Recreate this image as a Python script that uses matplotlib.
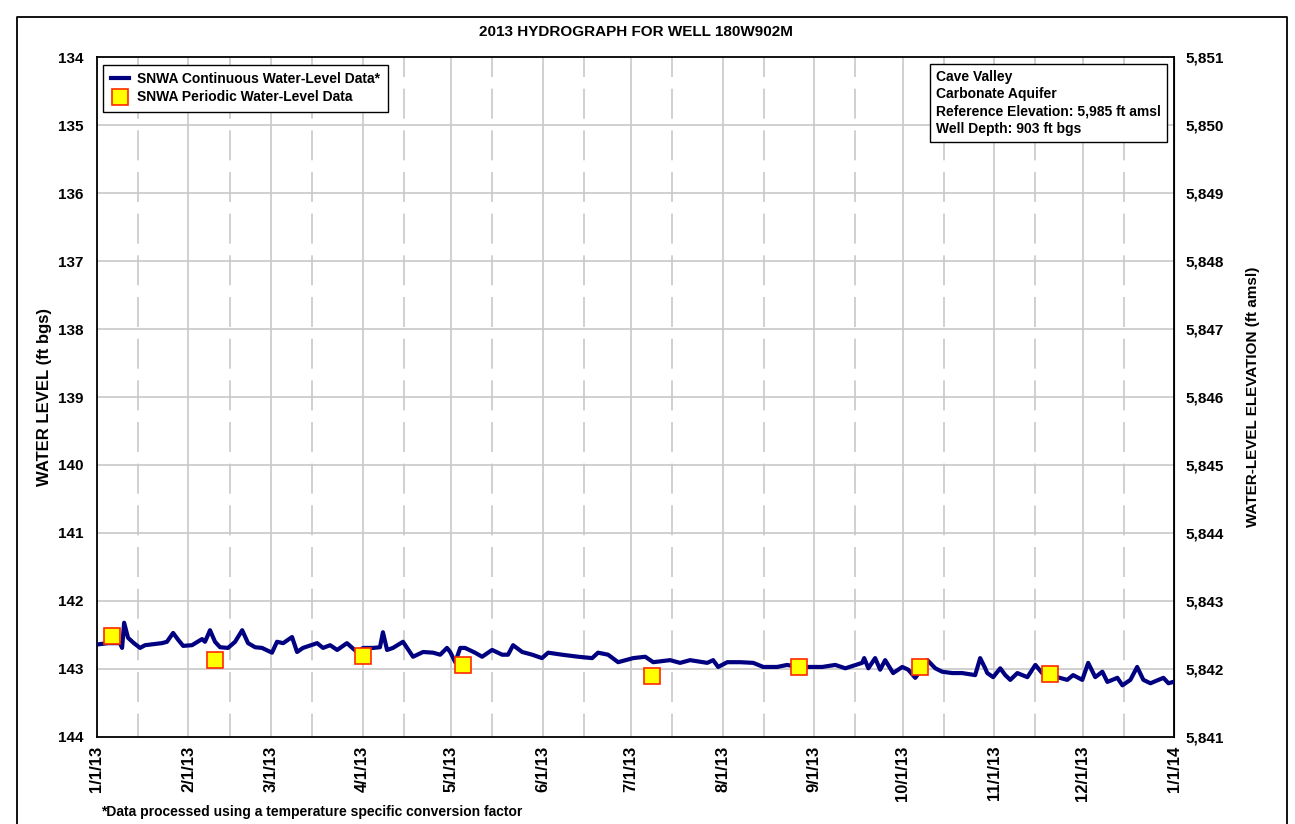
import numpy as np
import pandas as pd
import matplotlib
matplotlib.use('Agg')
import matplotlib.pyplot as plt

plt.rcParams['font.family'] = ['Liberation Sans', 'DejaVu Sans']
plt.rcParams['font.weight'] = 'bold'

# continuous record: days after 1/1/13 and water level (ft bgs)
cont_days = [0.0, 3.7, 7.8, 8.5, 9.2, 10.5, 12.5, 14.6, 16.3, 22.0, 23.7, 25.8, 27.5, 29.2,
             32.2, 35.6, 36.6, 38.3, 40.0, 41.7, 44.4, 46.8, 49.2, 51.2, 53.6, 55.9, 59.3,
             61.0, 63.1, 66.1, 67.8, 69.8, 74.6, 76.6, 79.0, 81.4, 84.7, 88.1, 90.2, 93.6,
             95.9, 96.9, 98.3, 100.3, 103.7, 107.1, 110.5, 113.9, 116.3, 118.6, 119.7, 121.4,
             123.1, 124.7, 128.1, 130.5, 133.9, 137.3, 139.3, 141.0, 144.1, 147.5, 150.8,
             152.9, 157.6, 163.1, 167.8, 169.8, 173.2, 176.6, 181.7, 185.8, 188.5, 194.2,
             197.6, 201.0, 206.8, 208.8, 210.5, 213.6, 218.0, 222.4, 225.8, 230.5, 233.9,
             237.3, 241.0, 245.8, 250.2, 253.6, 259.3, 260.0, 261.4, 263.7, 265.4, 267.1,
             269.8, 272.9, 274.9, 277.3, 279.3, 281.4, 284.1, 286.4, 289.8, 293.2, 297.6,
             299.3, 301.0, 301.7, 303.7, 306.1, 307.8, 309.5, 311.9, 315.3, 318.0, 320.3,
             325.4, 328.8, 330.8, 333.9, 335.9, 338.3, 340.7, 342.4, 345.8, 347.5, 350.2,
             352.5, 354.6, 357.0, 361.4, 363.1, 364.7]
cont_level = [142.64, 142.62, 142.62, 142.69, 142.32, 142.54, 142.62, 142.69, 142.65, 142.62,
              142.60, 142.47, 142.57, 142.66, 142.65, 142.56, 142.60, 142.43, 142.60, 142.68,
              142.69, 142.60, 142.43, 142.62, 142.68, 142.69, 142.76, 142.60, 142.62, 142.53,
              142.75, 142.69, 142.62, 142.69, 142.65, 142.72, 142.62, 142.75, 142.69, 142.69,
              142.68, 142.46, 142.72, 142.69, 142.60, 142.82, 142.75, 142.76, 142.79, 142.69,
              142.75, 142.90, 142.69, 142.69, 142.76, 142.82, 142.72, 142.79, 142.79, 142.65,
              142.75, 142.79, 142.84, 142.76, 142.79, 142.82, 142.84, 142.76, 142.79, 142.90,
              142.84, 142.82, 142.90, 142.87, 142.91, 142.87, 142.91, 142.87, 142.97, 142.90,
              142.90, 142.91, 142.97, 142.97, 142.94, 142.97, 142.97, 142.97, 142.94, 142.99,
              142.91, 142.84, 142.99, 142.84, 143.01, 142.87, 143.06, 142.97, 143.01, 143.13,
              143.01, 142.87, 142.99, 143.04, 143.06, 143.06, 143.09, 142.84, 142.99, 143.06,
              143.12, 142.99, 143.09, 143.16, 143.06, 143.12, 142.94, 143.06, 143.12, 143.16,
              143.09, 143.16, 142.91, 143.12, 143.04, 143.19, 143.13, 143.24, 143.16, 142.97,
              143.16, 143.21, 143.13, 143.21, 143.19]

# periodic (manual) measurements
per_dates = ['2013-01-06', '2013-02-10', '2013-04-01', '2013-05-05',
             '2013-07-08', '2013-08-27', '2013-10-07', '2013-11-20']
per_level = [142.51, 142.87, 142.81, 142.94, 143.10, 142.97, 142.97, 143.07]

ref_elev = 5985
info = ['Cave Valley', 'Carbonate Aquifer',
        'Reference Elevation: 5,985 ft amsl', 'Well Depth: 903 ft bgs']

t0 = pd.Timestamp('2013-01-01')
cont_t = t0 + pd.to_timedelta(cont_days, unit='D')
per_t = pd.to_datetime(per_dates)

fig = plt.figure(figsize=(12.95, 8.24), dpi=100)
ax = fig.add_axes([0.0749, 0.1056, 0.8317, 0.8252])

months = pd.date_range('2013-01-01', '2014-01-01', freq='MS')
for m in months:
    ax.axvline(m, color='#c8c8c8', lw=1.2, zorder=0)
for m in pd.date_range('2013-01-01', '2013-12-01', freq='MS') + pd.Timedelta(days=14):
    ax.axvline(m, color='#c8c8c8', lw=1.2, ls=(4, (18, 7)), zorder=0)
for v in range(135, 144):
    ax.axhline(v, color='#c8c8c8', lw=1.2, zorder=0)

ax.plot(cont_t, cont_level, color='#000080', lw=3.0,
        label='SNWA Continuous Water-Level Data*', zorder=3)
ax.plot(per_t, per_level, ls='none', marker='s', ms=12, mfc='#ffff00', mec='#ff2a00',
        mew=1.2, label='SNWA Periodic Water-Level Data', zorder=4)

ax.set_xlim(t0, pd.Timestamp('2014-01-01'))
ax.set_ylim(144, 134)
ax.set_yticks(range(134, 145))
ax.set_xticks(months)
ax.set_xticklabels([f'{d.month}/{d.day}/{d.strftime("%y")}' for d in months],
                   rotation=90, fontsize=12, fontweight='bold')
ax.tick_params(axis='y', labelsize=11, length=0, pad=10)
ax.tick_params(axis='x', length=0, pad=6)
for s in ax.spines.values():
    s.set_linewidth(1.3)
ax.set_ylabel('WATER LEVEL (ft bgs)', fontsize=12, fontweight='bold', labelpad=4)

sec = ax.secondary_yaxis('right', functions=(lambda x: ref_elev - x, lambda x: ref_elev - x))
sec.set_yticks(range(5841, 5852))
sec.set_yticklabels([f'{v:,}' for v in range(5841, 5852)], fontsize=11, fontweight='bold')
sec.tick_params(length=0, pad=8)
sec.set_ylabel('WATER-LEVEL ELEVATION (ft amsl)', fontsize=11, fontweight='bold', labelpad=16)

leg = ax.legend(loc='upper left', bbox_to_anchor=(0.003, 0.993), fontsize=10, frameon=True,
                fancybox=False, edgecolor='black', framealpha=1, handlelength=1.3,
                borderpad=0.55, labelspacing=0.3, handletextpad=0.6, borderaxespad=0.2)
leg.get_frame().set_linewidth(1.0)
for t in leg.get_texts():
    t.set_fontweight('bold')

ax.text(0.988, 0.981, '\n'.join(info), transform=ax.transAxes, ha='right', va='top',
        multialignment='left', fontsize=10, fontweight='bold', linespacing=1.3,
        bbox=dict(boxstyle='square,pad=0.45', fc='white', ec='black', lw=1.0))

fig.text(0.491, 0.961, '2013 HYDROGRAPH FOR WELL 180W902M', ha='center', va='center',
         fontsize=11, fontweight='bold')
fig.text(0.078, 0.014, '*Data processed using a temperature specific conversion factor',
         ha='left', va='center', fontsize=10, fontweight='bold')

# outer frame
x0, x1, y1 = 17 / 1295, 1287 / 1295, 1 - 17 / 824
fig.add_artist(plt.Line2D([x0, x0, x1, x1], [0, y1, y1, 0], color='black', lw=1.3,
                          transform=fig.transFigure))

fig.savefig('out.png', dpi=100)
